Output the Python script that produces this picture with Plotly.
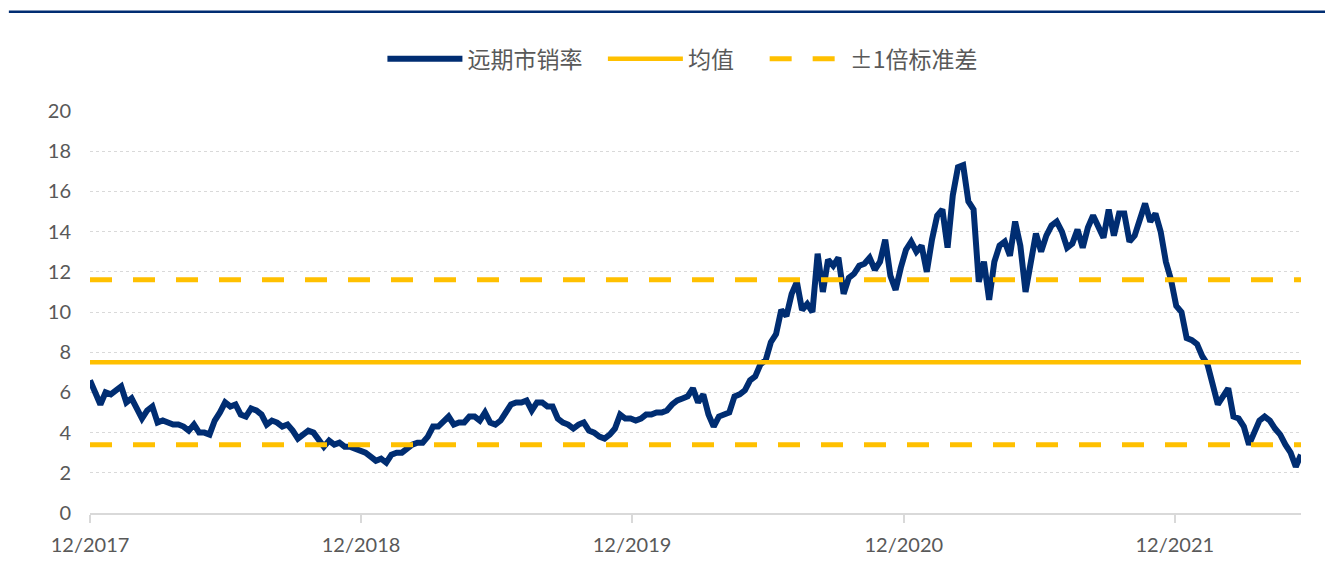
import pandas as pd
import plotly.graph_objects as go

# 远期市销率 weekly readings, starting 2017-12-01
ps_values = [
    6.6, 6.0, 5.4, 6.0, 5.9, 6.1, 6.3, 5.5, 5.7, 5.2,
    4.7, 5.1, 5.3, 4.5, 4.6, 4.5, 4.4, 4.4, 4.3, 4.1,
    4.4, 4.0, 4.0, 3.9, 4.6, 5.0, 5.5, 5.3, 5.4, 4.9,
    4.8, 5.2, 5.1, 4.9, 4.4, 4.6, 4.5, 4.3, 4.4, 4.1,
    3.7, 3.9, 4.1, 4.0, 3.6, 3.3, 3.6, 3.4, 3.5, 3.3,
    3.3, 3.2, 3.1, 3.0, 2.8, 2.6, 2.7, 2.5, 2.9, 3.0,
    3.0, 3.2, 3.4, 3.5, 3.5, 3.8, 4.3, 4.3, 4.6, 4.8,
    4.4, 4.5, 4.5, 4.8, 4.8, 4.6, 5.0, 4.5, 4.4, 4.6,
    5.0, 5.4, 5.5, 5.5, 5.6, 5.1, 5.5, 5.5, 5.3, 5.3,
    4.7, 4.5, 4.4, 4.2, 4.4, 4.5, 4.1, 4.0, 3.8, 3.7,
    3.9, 4.2, 4.9, 4.7, 4.7, 4.6, 4.7, 4.9, 4.9, 5.0,
    5.0, 5.1, 5.4, 5.6, 5.7, 5.8, 6.2, 5.5, 5.9, 4.9,
    4.3, 4.8, 4.9, 5.0, 5.8, 5.9, 6.1, 6.6, 6.8, 7.4,
    7.6, 8.5, 8.9, 10.1, 9.8, 10.9, 11.5, 10.1, 10.4, 10.0,
    12.9, 11.0, 12.6, 12.3, 12.7, 10.9, 11.7, 11.9, 12.3, 12.4,
    12.7, 12.1, 12.5, 13.6, 11.8, 11.1, 12.2, 13.1, 13.5, 13.0,
    13.3, 12.0, 13.6, 14.8, 15.1, 13.2, 15.8, 17.2, 17.3, 15.5,
    15.1, 11.5, 12.5, 10.6, 12.5, 13.3, 13.5, 12.8, 14.5, 13.3,
    11.0, 12.6, 13.9, 13.0, 13.8, 14.3, 14.5, 14.0, 13.2, 13.4,
    14.1, 13.2, 14.2, 14.8, 14.2, 13.7, 15.1, 13.8, 14.9, 14.9,
    13.5, 13.8, 14.6, 15.4, 14.5, 14.9, 14.0, 12.5, 11.6, 10.3,
    10.0, 8.7, 8.6, 8.4, 7.8, 7.4, 6.4, 5.4, 5.8, 6.2,
    4.8, 4.7, 4.3, 3.4, 4.0, 4.6, 4.8, 4.6, 4.2, 3.9,
    3.4, 3.0, 2.3, 2.9,
]
start_date = "2017-12-01"
mean_value = 7.5
upper_value = 11.6
lower_value = 3.4
tick_dates = ["2017-12-01", "2018-12-01", "2019-12-01", "2020-12-01", "2021-12-01"]
tick_labels = ["12/2017", "12/2018", "12/2019", "12/2020", "12/2021"]
y_ticks = list(range(0, 21, 2))
series_names = ["远期市销率", "均值", "±1倍标准差"]

dates = pd.date_range(start=start_date, periods=len(ps_values), freq="7D")
d0, d1 = dates[0], dates[-1]

NAVY = "#002D72"
GOLD = "#FFC000"
TXT = "#595959"
GRID = "#D9D9D9"

fig = go.Figure()
fig.add_trace(go.Scatter(
    x=dates, y=ps_values, mode="lines", name=series_names[0] + "\u00a0" * 3,
    line=dict(color=NAVY, width=6), legendrank=1,
))
fig.add_trace(go.Scatter(
    x=[d0, d1], y=[mean_value, mean_value], mode="lines",
    name=series_names[1] + "\u00a0" * 5,
    line=dict(color=GOLD, width=4.5), legendrank=2,
))
fig.add_trace(go.Scatter(
    x=[d0, d1, None, d0, d1],
    y=[upper_value, upper_value, None, lower_value, lower_value],
    mode="lines", name=series_names[2],
    line=dict(color=GOLD, width=5, dash="22px,21px"), legendrank=3,
))

# page has an 8px body margin, so the figure is 8px smaller than the window
fig.update_layout(
    width=1325, height=565,
    margin=dict(l=82, r=32, t=103, b=60, autoexpand=False),
    paper_bgcolor="white", plot_bgcolor="white",
    font=dict(family="Lato, Noto Sans CJK SC, sans-serif", color=TXT, size=20),
    showlegend=True,
    legend=dict(
        orientation="h", xref="container", yref="container",
        x=0.509, xanchor="center", y=0.91, yanchor="middle",
        font=dict(size=23, color=TXT, family="Noto Sans CJK SC, sans-serif"),
        itemwidth=75, bgcolor="rgba(0,0,0,0)",
    ),
    xaxis=dict(
        type="date", range=[d0, d1],
        tickvals=tick_dates, ticktext=tick_labels,
        showgrid=False, showline=True, linecolor=GRID, linewidth=1.5,
        ticks="outside", ticklen=8, tickcolor=GRID, tickwidth=1.5,
        ticklabelstandoff=5, automargin=False,
        tickfont=dict(size=20, color=TXT), zeroline=False,
    ),
    yaxis=dict(
        range=[0, 20], tickvals=y_ticks,
        showgrid=True, gridcolor=GRID, griddash="dot", gridwidth=1,
        showline=False, zeroline=False, ticks="", ticklabelstandoff=18,
        automargin=False,
        tickfont=dict(size=20, color=TXT),
    ),
    shapes=[dict(type="line", xref="paper", yref="paper",
                 x0=-0.067, x1=1.03, y0=1.247, y1=1.247,
                 line=dict(color=NAVY, width=2.5))],
)

fig.write_html("out.html")
